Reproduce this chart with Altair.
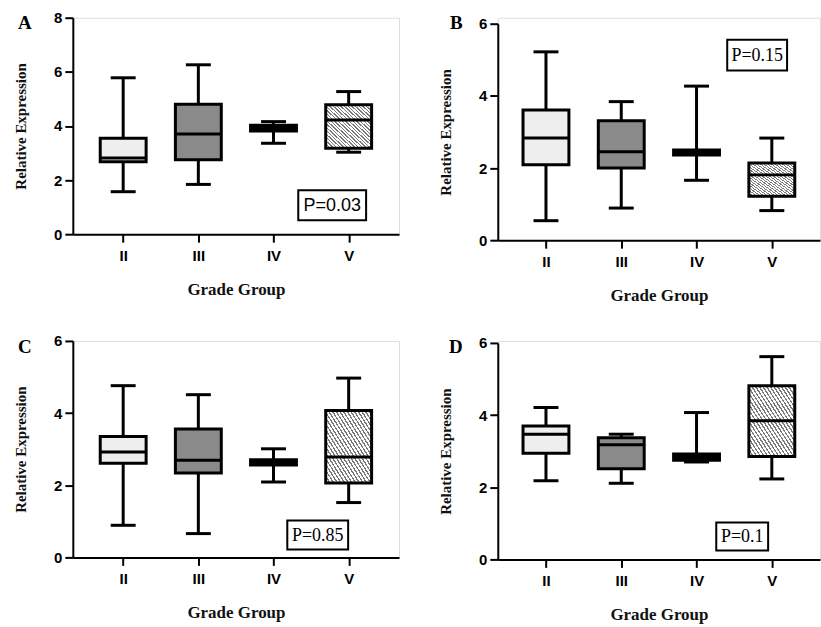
import altair as alt
import pandas as pd

grades = ["II", "III", "IV", "V"]

# Panel A (lower whisker, Q1, median, Q3, upper whisker)
a_low = [1.57, 1.84, 3.36, 3.03]
a_q1 = [2.68, 2.75, 3.81, 3.18]
a_med = [2.82, 3.70, 3.92, 4.22]
a_q3 = [3.55, 4.80, 4.03, 4.78]
a_high = [5.78, 6.26, 4.16, 5.27]

# Panel B
b_low = [0.54, 0.89, 1.66, 0.82]
b_q1 = [2.09, 2.00, 2.36, 1.22]
b_med = [2.83, 2.45, 2.43, 1.81]
b_q3 = [3.61, 3.31, 2.50, 2.14]
b_high = [5.22, 3.84, 4.27, 2.83]

# Panel C
c_low = [0.89, 0.66, 2.09, 1.52]
c_q1 = [2.61, 2.34, 2.56, 2.06]
c_med = [2.92, 2.69, 2.63, 2.78]
c_q3 = [3.35, 3.56, 2.71, 4.07]
c_high = [4.76, 4.51, 3.01, 4.97]

# Panel D
d_low = [2.18, 2.11, 2.70, 2.23]
d_q1 = [2.94, 2.51, 2.75, 2.85]
d_med = [3.47, 3.18, 2.85, 3.84]
d_q3 = [3.70, 3.37, 2.92, 4.81]
d_high = [4.21, 3.47, 4.07, 5.62]

p_texts = ["P=0.03", "P=0.15", "P=0.85", "P=0.1"]

fills = ["#eeeeee", "#8a8a8a", "#000000", "#cccccc"]

# diagonal hatch for group V
N = 25
stops = []
for i in range(N):
    o = i / N
    stops += [
        {"offset": o, "color": "#7a7a7a"},
        {"offset": o + 0.4 / N, "color": "#7a7a7a"},
        {"offset": o + 0.4 / N, "color": "#ffffff"},
        {"offset": (i + 1) / N, "color": "#ffffff"},
    ]
hatch = {"gradient": "linear", "x1": 0, "y1": 1, "x2": 1, "y2": 0, "stops": stops}


def panel(letter, low, q1, med, q3, high, ymax, w, h, ytop, xpad,
          ptxt, pfont, pbox, lpos, anchor=False):
    df = pd.DataFrame({"grade": grades, "low": low, "q1": q1, "med": med,
                       "q3": q3, "high": high})
    xaxis = alt.Axis(title="Grade Group", labelAngle=0)
    xenc = alt.X("grade:N", sort=grades,
                 scale=alt.Scale(type="point", padding=xpad, domain=grades),
                 axis=xaxis)
    yscale = alt.Scale(domain=[0, ymax], range=[h, ytop], nice=False, zero=True)
    yaxis = alt.Axis(values=list(range(0, ymax + 1, 2)), title="Relative Expression")

    def Y(f):
        return alt.Y(f + ":Q", scale=yscale, axis=yaxis)

    base = alt.Chart(df)
    whisk = base.mark_rule(color="black", strokeWidth=3, opacity=1).encode(
        x=xenc, y=Y("low"), y2="high:Q")
    box = base.transform_filter("datum.grade != 'V'").mark_bar(
        size=46, stroke="black", strokeWidth=3, opacity=1).encode(
        x=xenc, y=Y("q1"), y2="q3:Q",
        fill=alt.Fill("grade:N", scale=alt.Scale(domain=grades, range=fills),
                      legend=None))
    boxv = base.transform_filter("datum.grade == 'V'").mark_bar(
        size=46, stroke="black", strokeWidth=3, opacity=1, fill=hatch).encode(
        x=xenc, y=Y("q1"), y2="q3:Q")
    medt = base.mark_tick(size=46, thickness=3, color="black", opacity=1).encode(
        x=xenc, y=Y("med"))
    capl = base.mark_tick(size=25, thickness=3, color="black", opacity=1).encode(
        x=xenc, y=Y("low"))
    caph = base.mark_tick(size=25, thickness=3, color="black", opacity=1).encode(
        x=xenc, y=Y("high"))

    one = alt.Chart(pd.DataFrame({"t": [letter]}))
    lab = one.mark_text(font="Liberation Serif", fontWeight="bold", fontSize=19,
                        align="left", baseline="alphabetic", color="black").encode(
        x=alt.value(lpos[0]), y=alt.value(lpos[1]), text=alt.value(letter))
    x1, x2, y1, y2 = pbox
    prect = one.mark_rect(fill="white", stroke="black", strokeWidth=2).encode(
        x=alt.value(x1), x2=alt.value(x2), y=alt.value(y1), y2=alt.value(y2))
    ptext = one.mark_text(font=pfont, fontSize=18, align="center",
                          baseline="middle", color="black").encode(
        x=alt.value((x1 + x2) / 2), y=alt.value((y1 + y2) / 2 + 1),
        text=alt.value(ptxt))
    layers = [whisk, box, boxv, medt, capl, caph, prect, ptext, lab]
    if anchor:
        layers.append(one.mark_rule(opacity=0).encode(
            x=alt.value(-72), x2=alt.value(-72), y=alt.value(-16), y2=alt.value(-16)))
    return alt.layer(*layers).properties(width=w, height=h)


A = panel("A", a_low, a_q1, a_med, a_q3, a_high, 8, 327, 217, 0, 0.67,
          p_texts[0], "Liberation Sans", (226, 294, 173, 203), (-55, 11), anchor=True)
B = panel("B", b_low, b_q1, b_med, b_q3, b_high, 6, 323, 223, 6, 0.64,
          p_texts[1], "Liberation Serif", (230, 290, 22, 53), (-48, 11))
C = panel("C", c_low, c_q1, c_med, c_q3, c_high, 6, 327, 217, 0, 0.67,
          p_texts[2], "Liberation Serif", (215, 276, 180, 209), (-55, 12))
D = panel("D", d_low, d_q1, d_med, d_q3, d_high, 6, 323, 219, 2, 0.64,
          p_texts[3], "Liberation Serif", (219, 271, 182, 210), (-49, 12))

chart = alt.concat(A, B, C, D, columns=2, spacing={"row": 101, "column": 99},
                   bounds="flush", padding=0).configure_view(
    stroke=None
).configure(background="white").configure_axis(
    domainColor="black", domainWidth=2, tickColor="black", tickWidth=2,
    labelColor="black", labelFont="Liberation Sans", labelFontWeight="bold",
    labelFontSize=15, titleFont="Liberation Serif", titleFontWeight="bold",
    titleColor="#111111", grid=False
).configure_axisX(
    labelPadding=6, tickSize=8, titleFontSize=17, titlePadding=18
).configure_axisY(
    labelPadding=3, tickSize=8, titleFontSize=15, titlePadding=25
)

chart.save("out.html", embed_options={"renderer": "svg", "actions": False})
